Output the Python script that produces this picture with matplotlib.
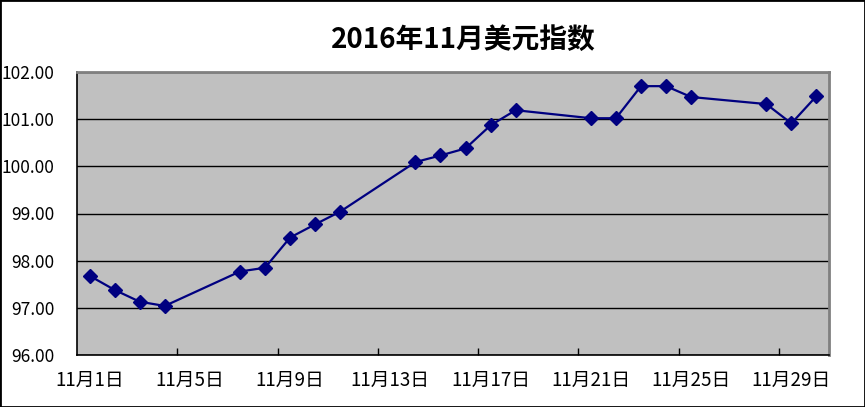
import matplotlib
matplotlib.use("Agg")
import matplotlib.pyplot as plt
from matplotlib.patches import Rectangle

plt.rcParams['font.family'] = ['Noto Sans CJK SC', 'DejaVu Sans']

# trading days in November 2016 and the dollar index close
days = [1, 2, 3, 4, 7, 8, 9, 10, 11, 14, 15, 16, 17, 18,
        21, 22, 23, 24, 25, 28, 29, 30]
values = [97.68, 97.38, 97.13, 97.04, 97.77, 97.85, 98.49, 98.77, 99.04,
          100.09, 100.23, 100.38, 100.87, 101.19, 101.02, 101.02, 101.70,
          101.70, 101.47, 101.32, 100.91, 101.49]
label_days = [1, 5, 9, 13, 17, 21, 25, 29]
tick_labels = ["11月%d日" % d for d in label_days]
y_ticks = [96, 97, 98, 99, 100, 101, 102]

fig = plt.figure(figsize=(8.65, 4.07), dpi=100)
ax = fig.add_axes([77 / 865, 52 / 407, 752 / 865, 283 / 407])
ax.set_facecolor("#C0C0C0")

ax.plot(days, values, color="#000080", lw=1.6, marker="D", ms=7,
        mfc="#000080", mec="#000080", zorder=3)

ax.set_xlim(0.5, 30.5)
ax.set_ylim(96, 102)
ax.set_yticks(y_ticks)
ax.set_yticklabels(["%.2f" % v for v in y_ticks], fontsize=12.5)
ax.tick_params(axis="y", length=0, pad=16)
ax.yaxis.grid(True, color="black", lw=1)
ax.set_axisbelow(True)

# labels sit on the day, tick marks sit between the days
ax.set_xticks(label_days)
ax.set_xticklabels(tick_labels, fontsize=13.5)
ax.set_xticks([d - 0.5 for d in label_days[1:]], minor=True)
ax.tick_params(axis="x", which="major", length=0, pad=11)
ax.tick_params(axis="x", which="minor", direction="in", length=5,
               color="black", width=1)

for side in ["left", "bottom"]:
    ax.spines[side].set_color("black")
    ax.spines[side].set_linewidth(1.2)
for side in ["top", "right"]:
    ax.spines[side].set_color("#808080")
    ax.spines[side].set_linewidth(2)

fig.text(463 / 865, 1 - 40 / 407, "2016年11月美元指数", ha="center",
         va="center", fontsize=20, fontweight="bold")

fig.patches.append(Rectangle((0, 0), 1, 1, transform=fig.transFigure,
                             fill=False, edgecolor="black", lw=2))

fig.savefig("out.png", dpi=100)
